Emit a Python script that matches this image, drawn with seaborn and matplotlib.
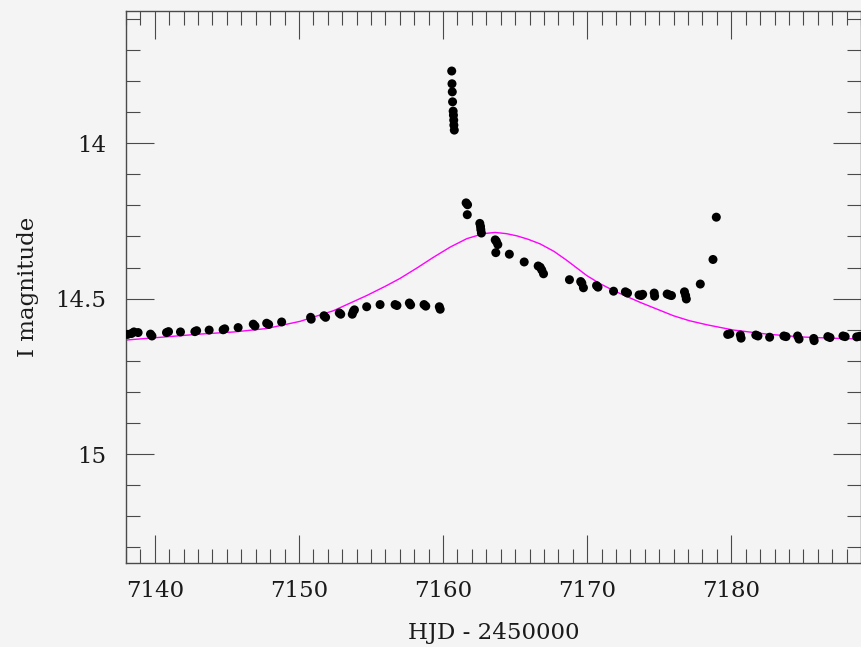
import numpy as np
import pandas as pd
import matplotlib
matplotlib.use("Agg")
import matplotlib.pyplot as plt
from matplotlib.ticker import MultipleLocator, FixedFormatter, FixedLocator
import seaborn as sns

bg = "#f4f4f4"
axis_col = "#4a4a4a"

sns.set_style("ticks", {"axes.facecolor": bg, "figure.facecolor": bg,
                        "axes.edgecolor": axis_col})
plt.rcParams["font.family"] = ["DejaVu Serif"]

# photometry (HJD - 2450000, I mag)
hjd = [7138.10, 7138.38, 7138.55, 7138.84, 7139.70, 7139.80, 7140.81, 7140.95,
       7141.78, 7142.78, 7142.90, 7143.77, 7144.74, 7144.85, 7145.78, 7146.83,
       7146.95, 7147.76, 7147.90, 7148.80, 7150.81, 7150.85, 7151.74, 7151.85,
       7152.80, 7152.90, 7153.77, 7153.70, 7153.85, 7154.70, 7155.63, 7156.67,
       7156.80, 7157.66, 7157.75, 7158.68, 7158.80, 7159.74, 7159.80,
       7160.60, 7160.62, 7160.64, 7160.66, 7160.70, 7160.72, 7160.74, 7160.75,
       7160.78,
       7161.60, 7161.70, 7161.68, 7162.55, 7162.60, 7162.62, 7162.66, 7163.62,
       7163.70, 7163.80, 7163.66, 7164.60, 7165.63, 7166.60, 7166.74, 7166.97,
       7166.85, 7168.77, 7169.55, 7169.63, 7169.74, 7170.65, 7170.75, 7171.83,
       7172.65, 7172.80, 7173.60, 7173.75, 7173.85, 7174.65, 7174.68, 7175.55,
       7175.70, 7175.85, 7176.75, 7176.88, 7176.83, 7177.85, 7178.73, 7178.96,
       7179.75, 7179.90, 7180.63, 7180.68, 7181.70, 7181.85, 7182.66, 7183.65,
       7183.80, 7184.60, 7184.70, 7185.72, 7185.75, 7186.70, 7186.85, 7187.75,
       7187.90, 7188.70, 7188.90]
imag = [14.615, 14.612, 14.607, 14.609, 14.614, 14.620, 14.609, 14.606,
        14.607, 14.606, 14.603, 14.601, 14.600, 14.597, 14.593, 14.582,
        14.588, 14.579, 14.583, 14.575, 14.560, 14.566, 14.555, 14.560,
        14.546, 14.550, 14.541, 14.550, 14.536, 14.526, 14.519, 14.519,
        14.522, 14.514, 14.520, 14.519, 14.524, 14.526, 14.534,
        13.768, 13.809, 13.835, 13.867, 13.897, 13.910, 13.926, 13.942,
        13.958,
        14.192, 14.198, 14.230, 14.258, 14.268, 14.278, 14.289, 14.311,
        14.316, 14.326, 14.352, 14.357, 14.382, 14.395, 14.399, 14.420,
        14.408, 14.439, 14.445, 14.450, 14.465, 14.458, 14.463, 14.476,
        14.478, 14.482, 14.488, 14.490, 14.486, 14.482, 14.492, 14.485,
        14.488, 14.490, 14.478, 14.501, 14.490, 14.453, 14.374, 14.238,
        14.615, 14.613, 14.617, 14.627, 14.617, 14.620, 14.624, 14.620,
        14.622, 14.620, 14.630, 14.628, 14.635, 14.622, 14.625, 14.620,
        14.622, 14.623, 14.621]

# model curve
model_hjd = [7138.03, 7141.00, 7143.13, 7145.50, 7147.76, 7150.07, 7152.38,
             7154.70, 7156.00, 7157.01, 7158.20, 7159.33, 7160.50, 7161.65,
             7162.80, 7163.61, 7164.40, 7165.12, 7165.90, 7166.74, 7167.70,
             7168.59, 7169.98, 7170.90, 7171.83, 7172.80, 7173.68, 7175.99,
             7177.10, 7178.31, 7180.16, 7182.48, 7184.79, 7186.90, 7189.03]
model_mag = [14.633, 14.622, 14.614, 14.607, 14.596, 14.573, 14.539,
             14.490, 14.460, 14.435, 14.401, 14.367, 14.334, 14.307,
             14.291, 14.287, 14.291, 14.298, 14.309, 14.324, 14.348,
             14.377, 14.426, 14.452, 14.474, 14.494, 14.512, 14.555,
             14.571, 14.584, 14.601, 14.614, 14.623, 14.627, 14.630]

obs = pd.DataFrame({"hjd": hjd, "imag": imag})
model = pd.DataFrame({"hjd": model_hjd, "imag": model_mag})

fig = plt.figure(figsize=(8.61, 6.47), dpi=100)
ax = fig.add_axes([126 / 861, 1 - 563 / 647, 1 - 126 / 861, (563 - 11) / 647])

sns.lineplot(data=model, x="hjd", y="imag", color="#ff00ff", lw=1.0,
             ax=ax, sort=False)
sns.scatterplot(data=obs, x="hjd", y="imag", color="black", s=42,
                edgecolor="none", ax=ax, zorder=3)

ax.set_xlim(7138, 7189)
ax.set_ylim(15.35, 13.575)

ax.xaxis.set_major_locator(MultipleLocator(10))
ax.xaxis.set_minor_locator(MultipleLocator(1))
ax.yaxis.set_major_locator(FixedLocator([14, 14.5, 15]))
ax.yaxis.set_major_formatter(FixedFormatter(["14", "14.5", "15"]))
ax.yaxis.set_minor_locator(MultipleLocator(0.1))

ax.tick_params(which="both", direction="in", top=True, right=True,
               color=axis_col, width=0.8, labelsize=16.5, labelcolor="#1a1a1a")
ax.tick_params(which="major", length=20)
ax.tick_params(axis="x", which="major", pad=12)
ax.tick_params(axis="y", which="major", pad=14)
ax.tick_params(which="minor", length=10)
for s in ax.spines.values():
    s.set_linewidth(1.0)
    s.set_color(axis_col)

ax.set_xlabel("HJD - 2450000", fontsize=16.5, color="#1a1a1a", labelpad=15)
ax.set_ylabel("I magnitude", fontsize=16.5, color="#1a1a1a", labelpad=12)

fig.savefig("out.png", dpi=100, facecolor=bg)
